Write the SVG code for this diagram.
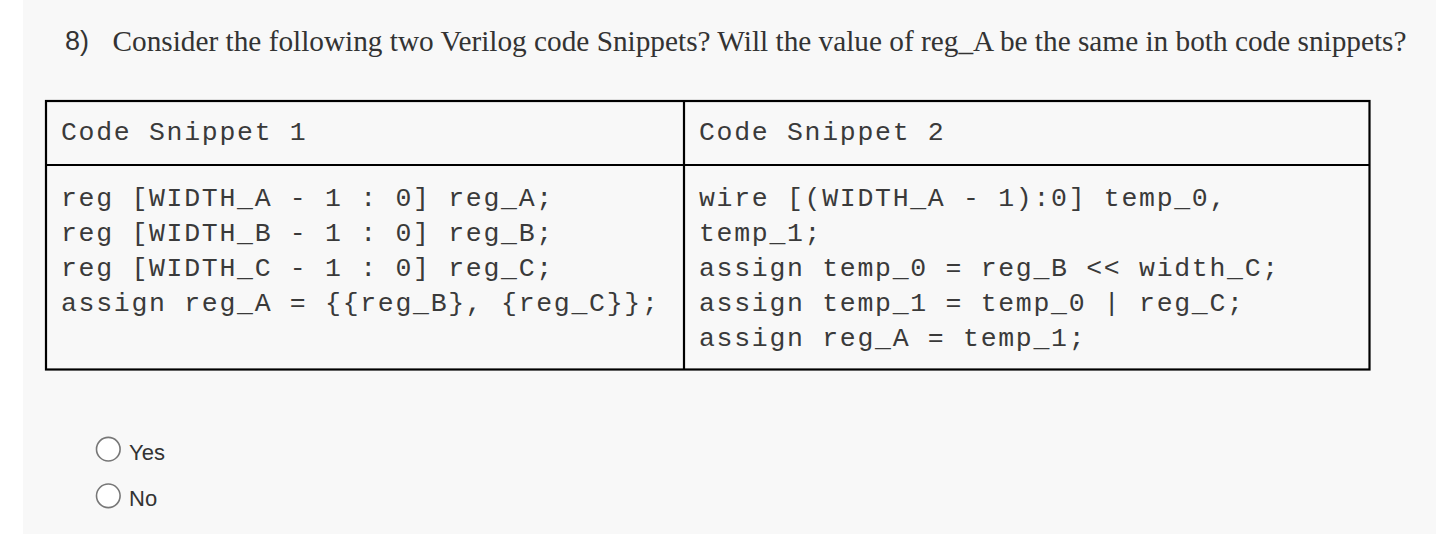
<svg xmlns="http://www.w3.org/2000/svg" width="1436" height="534" viewBox="0 0 1436 534">
<style>
.title{font-family:"Liberation Serif","Times New Roman",serif;font-size:29px;fill:#333}
.num{font-family:"Liberation Sans",Arial,sans-serif;font-size:27px;fill:#333}
.code{font-family:"Liberation Mono","Courier New",monospace;font-size:26.5px;letter-spacing:1.7px;fill:#3a3a3a}
.opt{font-family:"Liberation Sans",Arial,sans-serif;font-size:22px;fill:#333}
.radio{fill:#fff;stroke:#777;stroke-width:1.6}
.border{fill:none;stroke:#000;stroke-width:2.2}
</style>
<rect x="0" y="0" width="1436" height="534" fill="#fff"/>
<rect x="23" y="0" width="1413" height="534" fill="#f8f8f8"/>
<g id="question">
<text class="num" x="65" y="50">8)</text>
<text class="title" x="112.5" y="51" textLength="1294" lengthAdjust="spacingAndGlyphs">Consider the following two Verilog code Snippets? Will the value of reg_A be the same in both code snippets?</text>
</g>
<g id="table">
<rect class="border" x="46" y="101" width="1323.5" height="268.5"/>
<line class="border" x1="46" y1="165" x2="1369.5" y2="165"/>
<line class="border" x1="684" y1="101" x2="684" y2="369.5"/>
</g>
<g id="snippet1">
<text class="code" x="61" y="139.5">Code Snippet 1</text>
<text class="code" x="61" y="206">reg [WIDTH_A - 1 : 0] reg_A;</text>
<text class="code" x="61" y="241">reg [WIDTH_B - 1 : 0] reg_B;</text>
<text class="code" x="61" y="276">reg [WIDTH_C - 1 : 0] reg_C;</text>
<text class="code" x="61" y="311">assign reg_A = {{reg_B}, {reg_C}};</text>
</g>
<g id="snippet2">
<text class="code" x="699" y="139.5">Code Snippet 2</text>
<text class="code" x="699" y="206">wire [(WIDTH_A - 1):0] temp_0,</text>
<text class="code" x="699" y="241">temp_1;</text>
<text class="code" x="699" y="276">assign temp_0 = reg_B &lt;&lt; width_C;</text>
<text class="code" x="699" y="311">assign temp_1 = temp_0 | reg_C;</text>
<text class="code" x="699" y="346">assign reg_A = temp_1;</text>
</g>
<g id="option-yes">
<circle class="radio" cx="108.3" cy="449.2" r="11.8"/>
<text class="opt" x="129" y="460">Yes</text>
</g>
<g id="option-no">
<circle class="radio" cx="108.3" cy="495.8" r="11.8"/>
<text class="opt" x="129" y="505.5">No</text>
</g>
</svg>
